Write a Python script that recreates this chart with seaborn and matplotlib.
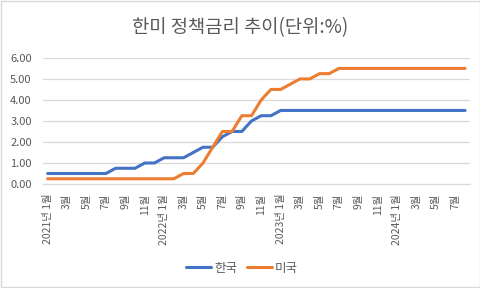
import matplotlib
matplotlib.use("Agg")
import matplotlib.pyplot as plt
from matplotlib.patches import Rectangle
import seaborn as sns
import pandas as pd

# --- data: monthly policy rates, 2021-01 .. 2024-08 ---
months = [f"{y}-{m:02d}" for y in range(2021, 2025) for m in range(1, 13)][:44]

korea = ([0.50] * 7 + [0.75] * 3 + [1.00] * 2 +                      # 2021
         [1.25] * 3 + [1.50] + [1.75] * 2 + [2.25] + [2.50] * 2 +
         [3.00] + [3.25] * 2 +                                        # 2022
         [3.50] * 12 +                                                # 2023
         [3.50] * 8)                                                  # 2024

usa = ([0.25] * 12 +                                                  # 2021
       [0.25, 0.25, 0.50, 0.50, 1.00, 1.75, 2.50, 2.50, 3.25, 3.25, 4.00, 4.50] +
       [4.50, 4.75, 5.00, 5.00, 5.25, 5.25] + [5.50] * 6 +            # 2023
       [5.50] * 8)                                                    # 2024

series_names = ["한국", "미국"]
colors = ["#4472C4", "#ED7D31"]

# tick labels every 2 months, year shown in January
tick_pos = list(range(0, 44, 2))
tick_labels = []
for i in tick_pos:
    y, m = months[i].split("-")
    m = int(m)
    tick_labels.append(f"{y}년 {m}월" if m == 1 else f"{m}월")

df = pd.DataFrame({
    "idx": list(range(44)) * 2,
    "rate": korea + usa,
    "country": [series_names[0]] * 44 + [series_names[1]] * 44,
})

# --- plot ---
sns.set_style("white")
plt.rcParams["font.family"] = ["Noto Sans CJK KR", "DejaVu Sans"]

fig = plt.figure(figsize=(4.81, 2.88), dpi=100)
ax = fig.add_axes([0.089, 0.361, 0.888, 0.438])

sns.lineplot(data=df, x="idx", y="rate", hue="country", hue_order=series_names,
             palette=colors, linewidth=2.2, ax=ax, legend=True)

ax.set_xlim(-0.5, 43.5)
ax.set_ylim(0, 6)
ax.set_yticks([0, 1, 2, 3, 4, 5, 6])
ax.set_yticklabels([f"{v:.2f}" for v in range(7)])
ax.set_xticks(tick_pos)
ax.set_xticklabels(tick_labels, rotation=90)
ax.set_xlabel("")
ax.set_ylabel("")

ax.grid(axis="y", color="#d9d9d9", linewidth=0.9)
ax.set_axisbelow(True)
for s in ["top", "right", "left"]:
    ax.spines[s].set_visible(False)
ax.spines["bottom"].set_color("#d9d9d9")
ax.tick_params(axis="x", length=0, pad=7, labelsize=7.5, labelcolor="#595959")
ax.tick_params(axis="y", length=0, pad=8, labelsize=8, labelcolor="#595959")

ax.legend_.remove()
handles, labels = ax.get_legend_handles_labels()
fig.legend(handles, labels, loc="center", bbox_to_anchor=(0.503, 0.069), ncol=2,
           frameon=False, fontsize=9, handlelength=2.0, handletextpad=0.2,
           columnspacing=0.8, labelcolor="#595959")

fig.text(0.5, 0.903, "한미 정책금리 추이(단위:%)", ha="center", va="center",
         fontsize=13.5, color="#595959")

# chart border
fig.patches.append(Rectangle((0.002, 0.003), 0.996, 0.994, transform=fig.transFigure,
                             fill=False, edgecolor="#d9d9d9", linewidth=1))

fig.savefig("out.png", dpi=100)
